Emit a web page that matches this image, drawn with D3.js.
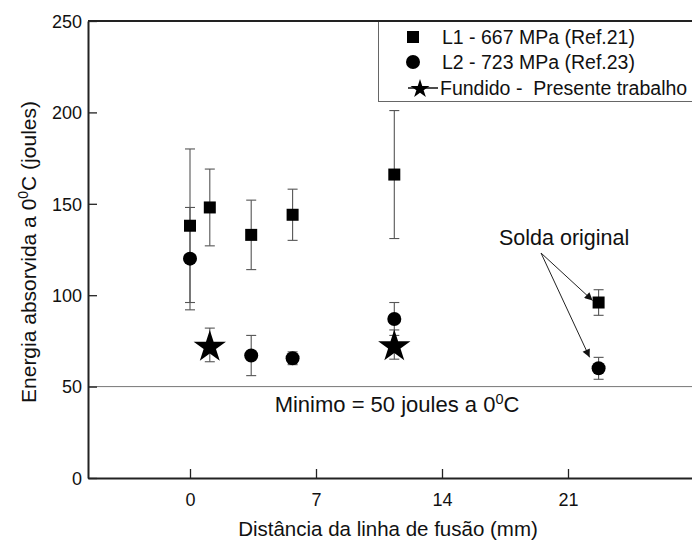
<!DOCTYPE html>
<html>
<head>
<meta charset="utf-8">
<script src="https://cdn.jsdelivr.net/npm/d3@7"></script>
<style>
  body { margin: 0; background: #fff; }
  text { font-family: "Liberation Sans", Arial, sans-serif; fill: #111; white-space: pre; }
</style>
</head>
<body>
<div id="chart"></div>
<script>
// data
const distL1 = [0, 1.1, 3.4, 5.7, 11.35, 22.7];
const energyL1 = [138, 148, 133, 144, 166, 96];
const errL1 = [42, 21, 19, 14, 35, 7];

const distL2 = [0, 3.4, 5.7, 11.35, 22.7];
const energyL2 = [120, 67, 65.5, 87, 60];
const errL2 = [28, 11, 3.5, 9, 6];

const distFundido = [1.1, 11.35];
const energyFundido = [72.8, 73];
const errFundido = [9.2, 8];

const xTicks = [0, 7, 14, 21];
const yTicks = [0, 50, 100, 150, 200, 250];
const minimo = 50;

const legendLabels = ['L1 - 667 MPa (Ref.21)', 'L2 - 723 MPa (Ref.23)', 'Fundido -  Presente trabalho'];

const svgWidth = 692, svgHeight = 543;
const margin = {top: 21, right: 0, bottom: 65, left: 88};

const svg = d3.select('#chart').append('svg')
    .attr('width', svgWidth)
    .attr('height', svgHeight);

const x = d3.scaleLinear()
    .domain([-102 / 18, (svgWidth - 190) / 18])
    .range([margin.left, svgWidth - margin.right]);

const y = d3.scaleLinear()
    .domain([0, 250])
    .range([svgHeight - margin.bottom, margin.top]);

const zip = (xs, ys, es) => xs.map((d, i) => ({x: d, y: ys[i], e: es[i]}));
const seriesL1 = zip(distL1, energyL1, errL1);
const seriesL2 = zip(distL2, energyL2, errL2);
const seriesF = zip(distFundido, energyFundido, errFundido);

// minimum line
svg.append('line')
    .attr('x1', x.range()[0]).attr('x2', x.range()[1])
    .attr('y1', y(minimo)).attr('y2', y(minimo))
    .attr('stroke', '#777').attr('stroke-width', 1);

const minText = svg.append('text')
    .attr('x', 397).attr('y', y(minimo) + 25)
    .attr('text-anchor', 'middle')
    .style('font-size', '22px');
minText.append('tspan').text('Minimo = 50 joules a 0');
minText.append('tspan').attr('dy', -8).style('font-size', '14.5px').text('0');
minText.append('tspan').attr('dy', 8).text('C');

// top frame
svg.append('line')
    .attr('x1', x.range()[0]).attr('x2', x.range()[1])
    .attr('y1', y(250)).attr('y2', y(250))
    .attr('stroke', '#222').attr('stroke-width', 2);

// axes
const xAxis = svg.append('g')
    .attr('transform', `translate(0,${y(0)})`)
    .call(d3.axisBottom(x).tickValues(xTicks).tickSizeInner(-9).tickSizeOuter(0).tickPadding(15));

const yAxis = svg.append('g')
    .attr('transform', `translate(${x.range()[0]},0)`)
    .call(d3.axisLeft(y).tickValues(yTicks).tickSizeInner(-9).tickSizeOuter(0).tickPadding(6));

[xAxis, yAxis].forEach(a => {
    a.select('.domain').attr('stroke', '#222').attr('stroke-width', 2);
    a.selectAll('.tick line').attr('stroke', '#222').attr('stroke-width', 1.3);
    a.selectAll('.tick text').style('font-size', '18px').attr('fill', '#111')
        .style('font-family', '"Liberation Sans", Arial, sans-serif');
});
yAxis.selectAll('.tick text').attr('dy', '0.35em');

// axis titles
svg.append('text')
    .attr('x', 388).attr('y', 536)
    .attr('text-anchor', 'middle')
    .style('font-size', '20.5px')
    .text('Distância da linha de fusão (mm)');

const yTitle = svg.append('text')
    .attr('transform', `translate(36,${252}) rotate(-90)`)
    .attr('text-anchor', 'middle')
    .style('font-size', '21px');
yTitle.append('tspan').text('Energia absorvida a 0');
yTitle.append('tspan').attr('dy', -8).style('font-size', '14px').text('0');
yTitle.append('tspan').attr('dy', 8).text('C (joules)');

// error bars
function errorBars(data) {
    const g = svg.append('g').attr('stroke', '#555').attr('stroke-width', 1.1);
    data.forEach(d => {
        g.append('line')
            .attr('x1', x(d.x)).attr('x2', x(d.x))
            .attr('y1', y(d.y - d.e)).attr('y2', y(d.y + d.e));
        [d.y - d.e, d.y + d.e].forEach(v => {
            g.append('line')
                .attr('x1', x(d.x) - 5).attr('x2', x(d.x) + 5)
                .attr('y1', y(v)).attr('y2', y(v));
        });
    });
}
errorBars(seriesL1);
errorBars(seriesL2);
errorBars(seriesF);

const starSize = R => R * R / 0.8908130915292852;

svg.append('g').selectAll('rect')
    .data(seriesL1)
    .enter().append('rect')
    .attr('x', d => x(d.x) - 6).attr('y', d => y(d.y) - 6)
    .attr('width', 12).attr('height', 12)
    .attr('fill', '#000');

svg.append('g').selectAll('circle')
    .data(seriesL2)
    .enter().append('circle')
    .attr('cx', d => x(d.x)).attr('cy', d => y(d.y))
    .attr('r', 7)
    .attr('fill', '#000');

svg.append('g').selectAll('path')
    .data(seriesF)
    .enter().append('path')
    .attr('d', d3.symbol().type(d3.symbolStar).size(starSize(17)))
    .attr('transform', d => `translate(${x(d.x)},${y(d.y) + 2})`)
    .attr('fill', '#000');

// annotation
svg.append('defs').append('marker')
    .attr('id', 'arrow')
    .attr('viewBox', '0 0 10 10')
    .attr('refX', 10).attr('refY', 5)
    .attr('markerWidth', 12).attr('markerHeight', 8)
    .attr('markerUnits', 'userSpaceOnUse')
    .attr('orient', 'auto')
    .append('path')
    .attr('d', 'M0,0 L10,5 L0,10 Z')
    .attr('fill', '#111');

svg.append('text')
    .attr('x', 499).attr('y', 245)
    .style('font-size', '21.5px')
    .text('Solda original');

const arrowStart = [541, 253];
const arrowTargets = [seriesL1[5], seriesL2[4]];
svg.append('line')
    .attr('x1', arrowStart[0]).attr('y1', arrowStart[1])
    .attr('x2', x(arrowTargets[0].x) - 6).attr('y2', y(arrowTargets[0].y) - 2)
    .attr('stroke', '#222').attr('stroke-width', 1)
    .attr('marker-end', 'url(#arrow)');
svg.append('line')
    .attr('x1', arrowStart[0]).attr('y1', arrowStart[1])
    .attr('x2', x(arrowTargets[1].x) - 9).attr('y2', y(arrowTargets[1].y) - 11)
    .attr('stroke', '#222').attr('stroke-width', 1)
    .attr('marker-end', 'url(#arrow)');

// legend
const legend = svg.append('g');
legend.append('rect')
    .attr('x', 378.5).attr('y', margin.top)
    .attr('width', svgWidth - 378.5 + 2).attr('height', 80.5)
    .attr('fill', '#fff').attr('stroke', '#666').attr('stroke-width', 1);
svg.append('line')
    .attr('x1', 378).attr('x2', svgWidth)
    .attr('y1', y(250)).attr('y2', y(250))
    .attr('stroke', '#222').attr('stroke-width', 2);

const legendY = [37, 62, 88];
legend.append('rect').attr('x', 407).attr('y', legendY[0] - 6).attr('width', 12).attr('height', 12).attr('fill', '#000');
legend.append('circle').attr('cx', 413).attr('cy', legendY[1]).attr('r', 7).attr('fill', '#000');
legend.append('line').attr('x1', 408).attr('x2', 438).attr('y1', legendY[2]).attr('y2', legendY[2])
    .attr('stroke', '#111').attr('stroke-width', 1.5);
legend.append('path')
    .attr('d', d3.symbol().type(d3.symbolStar).size(starSize(10)))
    .attr('transform', `translate(420,${legendY[2] + 1})`)
    .attr('fill', '#000');

legend.selectAll('text.lbl')
    .data(legendLabels)
    .enter().append('text')
    .attr('class', 'lbl')
    .attr('x', (d, i) => i === 2 ? 440 : 442)
    .attr('y', (d, i) => legendY[i])
    .attr('dy', '0.35em')
    .style('font-size', '19.5px')
    .text(d => d);
</script>
</body>
</html>
